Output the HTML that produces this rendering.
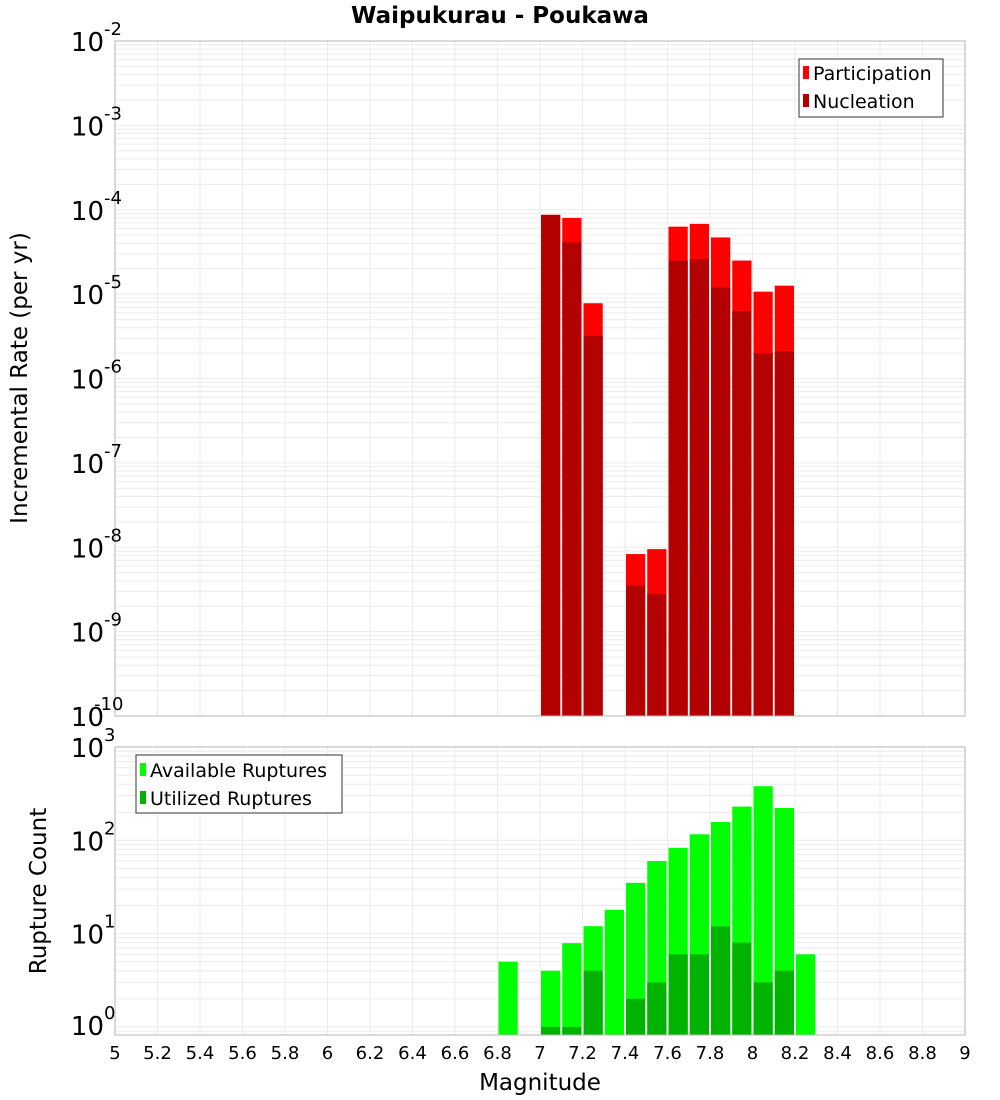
<!DOCTYPE html>
<html><head><meta charset="utf-8"><style>
body{margin:0;background:#fff;}
svg{display:block;font-family:"DejaVu Sans","Liberation Sans",sans-serif;}
</style></head><body>
<svg id="c" width="1000" height="1100" xmlns="http://www.w3.org/2000/svg"></svg>
<script>
const bins=[6.85,7.05,7.15,7.25,7.35,7.45,7.55,7.65,7.75,7.85,7.95,8.05,8.15,8.25];
const participation=[0,8.7e-5,8e-5,7.8e-6,0,8.3e-9,9.5e-9,6.3e-5,6.8e-5,4.7e-5,2.5e-5,1.07e-5,1.26e-5,0];
const nucleation=[0,8.7e-5,4.1e-5,3.2e-6,0,3.5e-9,2.8e-9,2.5e-5,2.6e-5,1.2e-5,6.3e-6,2.0e-6,2.1e-6,0];
const available=[5,4,7.9,12,18,35,60,83,116,157,230,380,222,6];
const utilized=[0,1,1,4,0,2,3,6,6,12,8,3,4,0];
const xTicks=[5,5.2,5.4,5.6,5.8,6,6.2,6.4,6.6,6.8,7,7.2,7.4,7.6,7.8,8,8.2,8.4,8.6,8.8,9];
const topExps=[-10,-9,-8,-7,-6,-5,-4,-3,-2];
const botExps=[0,1,2,3];

const NS="http://www.w3.org/2000/svg",svg=document.getElementById('c');
function mk(t,a,p){const e=document.createElementNS(NS,t);for(const k in a)e.setAttribute(k,a[k]);(p||svg).appendChild(e);return e;}
const X0=115,X1=965;
const xs=v=>X0+(v-5)/4*(X1-X0);
const T0=41,T1=716,yT=v=>T1-(Math.log10(v)+10)*(T1-T0)/8;
const B0=747,B1=1035,bd=93.3,yB=v=>B0+(3-Math.log10(v))*bd;
const bMin=Math.pow(10,3-(B1-B0)/bd);

function grid(top,bot,yf,e0,e1){
  const g=mk('g',{});
  
  for(let e=e0;e<e1;e++)for(let m=1;m<10;m++){const y=yf(m*Math.pow(10,e));if(y>=top&&y<=bot)mk('line',{x1:X0,x2:X1,y1:y,y2:y,stroke:'#ebebeb','stroke-width':1},g);}
  xTicks.forEach(t=>mk('line',{x1:xs(t),x2:xs(t),y1:top,y2:bot,stroke:'#ebebeb'},g));
}
grid(T0,T1,yT,-10,-1);
grid(B0,B1,yB,-1,3);

function bars(vals,color,yf,base,name){
  vals.forEach((v,i)=>{if(v<=0)return;const x=xs(bins[i]-0.05)+1,w=xs(bins[i]+0.05)-xs(bins[i]-0.05)-2;const y=yf(v);
    const r=mk('rect',{x:x,y:y,width:w,height:base-y,fill:color});
    });
}
bars(participation,'#ff0000',yT,T1,'participation');
bars(nucleation,'#b30000',yT,T1,'nucleation');
bars(available,'#00ff00',v=>yB(Math.max(v,bMin)),B1,'available');
bars(utilized,'#00b300',v=>yB(Math.max(v,bMin)),B1,'utilized');

mk('rect',{x:X0,y:T0,width:X1-X0,height:T1-T0,fill:'none',stroke:'#b4b4b4'});
mk('rect',{x:X0,y:B0,width:X1-X0,height:B1-B0,fill:'none',stroke:'#b4b4b4'});

function ylab(e,y){
  const t=mk('text',{x:104,y:y+10,'text-anchor':'end','font-size':26,fill:'#000'});
  
  t.textContent='10';
  const s=mk('text',{x:(e==-10?94:104),y:y-6,'font-size':18,fill:'#000'});
  
  s.textContent=String(e);}
topExps.forEach(e=>ylab(e,yT(Math.pow(10,e))));
botExps.forEach(e=>ylab(e,yB(Math.pow(10,e))-(e==0?2:0)));
xTicks.forEach(t=>{const e=mk('text',{x:xs(t),y:1059,'text-anchor':'middle','font-size':18});
  e.textContent=String(t);});
</script>
<svg width="1000" height="1100" style="position:absolute;left:0;top:0" xmlns="http://www.w3.org/2000/svg">
<text x="500" y="23" text-anchor="middle" font-size="23" font-weight="bold">Waipukurau - Poukawa</text>
<text transform="translate(27,378) rotate(-90)" text-anchor="middle" font-size="23">Incremental Rate (per yr)</text>
<text transform="translate(46,891) rotate(-90)" text-anchor="middle" font-size="23">Rupture Count</text>
<text x="540" y="1090" text-anchor="middle" font-size="23">Magnitude</text>
<g>
<rect x="799" y="59" width="144" height="58" fill="#fff" stroke="#333"/>
<rect x="803" y="66" width="6" height="13" fill="#ff0000"/>
<text x="813" y="80" font-size="19">Participation</text>
<rect x="803" y="94" width="6" height="13" fill="#b30000"/>
<text x="813" y="108" font-size="19">Nucleation</text>
</g>
<g>
<rect x="136" y="755" width="206" height="58" fill="#fff" stroke="#333"/>
<rect x="140" y="763" width="6" height="13" fill="#00ff00"/>
<text x="150" y="777" font-size="19">Available Ruptures</text>
<rect x="140" y="791" width="6" height="13" fill="#00b300"/>
<text x="150" y="805" font-size="19">Utilized Ruptures</text>
</g>
</svg>
</body></html>
